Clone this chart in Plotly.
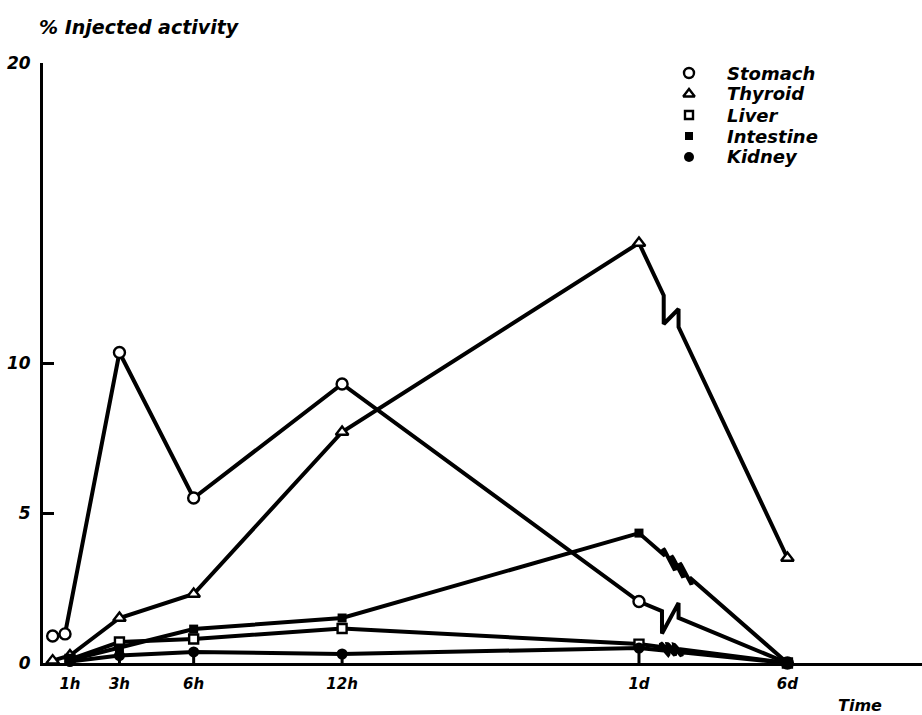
import numpy as np
import plotly.graph_objects as go

# ---------------- data ----------------
tick_hours = [1, 3, 6, 12, 24, 30]
tick_labels = ["1h", "3h", "6h", "12h", "1d", "6d"]
y_ticks = [0, 5, 10, 20]

stomach_x = [0.3, 0.8, 3, 6, 12, 24, 30]
stomach_y = [0.9, 0.97, 10.35, 5.5, 9.3, 2.05, 0.0]

thyroid_x = [0.3, 1, 3, 6, 12, 24, 30]
thyroid_y = [0.08, 0.25, 1.5, 2.3, 7.7, 14.0, 3.5]

liver_x = [1, 3, 6, 12, 24, 30]
liver_y = [0.12, 0.7, 0.8, 1.15, 0.63, 0.0]

intestine_x = [1, 3, 6, 12, 24, 30]
intestine_y = [0.1, 0.5, 1.13, 1.5, 4.33, 0.0]

kidney_x = [1, 3, 6, 12, 24, 30]
kidney_y = [0.05, 0.25, 0.37, 0.3, 0.5, 0.0]

legend_names = ["Stomach", "Thyroid", "Liver", "Intestine", "Kidney"]

FONT = "DejaVu Sans"
LW = 4

# plot area in figure pixels
PX0, PX1, PY0, PY1 = 43, 922, 63, 663


def paper(px, py):
    return (px - PX0) / (PX1 - PX0), (PY1 - py) / (PY1 - PY0)


def seg_y(x0, y0, x1, y1, x):
    return y0 + (y1 - y0) * (x - x0) / (x1 - x0)


def zig_path(xs, ys, xa, xb, d1, d2):
    """line through data with an axis-break 'N' on the last segment"""
    x0, y0, x1, y1 = xs[-2], ys[-2], xs[-1], ys[-1]
    ya, yb = seg_y(x0, y0, x1, y1, xa), seg_y(x0, y0, x1, y1, xb)
    px = list(xs[:-1]) + [xa, xa, xb, xb, x1]
    py = list(ys[:-1]) + [ya, ya - d1, yb + d2, yb, y1]
    return px, py


def coil_path(xs, ys, xa, xb, n, ax, ay):
    x0, y0, x1, y1 = xs[-2], ys[-2], xs[-1], ys[-1]
    s = np.linspace(0, 1, 60)
    xc = xa + (xb - xa) * s
    yc = seg_y(x0, y0, x1, y1, xc)
    t = 2 * np.pi * n * s
    cx = xc - ax * np.sin(t)
    cy = yc + ay * np.sin(t)
    px = list(xs[:-1]) + list(cx) + [x1]
    py = list(ys[:-1]) + list(cy) + [y1]
    return px, py


fig = go.Figure()
line_style = dict(color="black", width=LW)

for px, py in [
    zig_path(stomach_x, stomach_y, 24.93, 25.6, 0.75, 0.5),
    zig_path(thyroid_x, thyroid_y, 25.0, 25.6, 0.95, 0.6),
    coil_path(intestine_x, intestine_y, 25.05, 26.05, 3, 0.15, 0.3),
    coil_path(liver_x, liver_y, 24.9, 25.7, 3, 0.08, 0.13),
    coil_path(kidney_x, kidney_y, 24.9, 25.7, 3, 0.08, 0.13),
]:
    fig.add_trace(go.Scatter(x=px, y=py, mode="lines", line=line_style,
                             showlegend=False, hoverinfo="skip"))

# kidney drop lines
fig.add_trace(go.Scatter(
    x=kidney_x[1:5], y=kidney_y[1:5], mode="markers",
    marker=dict(size=1, color="black"),
    error_y=dict(type="data", symmetric=False, array=[0] * 4,
                 arrayminus=kidney_y[1:5], color="black", thickness=3, width=0),
    showlegend=False, hoverinfo="skip"))

open_m = dict(color="white", line=dict(color="black", width=2.4))
series_markers = [
    (stomach_x, stomach_y, dict(symbol="circle", size=11, **open_m)),
    (thyroid_x, thyroid_y, dict(symbol="triangle-up", size=11, **open_m)),
    (liver_x, liver_y, dict(symbol="square", size=9, **open_m)),
    (intestine_x, intestine_y, dict(symbol="square", size=9, color="black")),
    (kidney_x, kidney_y, dict(symbol="circle", size=11, color="black")),
]
for xs, ys, m in series_markers:
    fig.add_trace(go.Scatter(x=xs, y=ys, mode="markers", marker=m,
                             showlegend=False, hoverinfo="skip", cliponaxis=False))

text_font = dict(family=FONT, color="black", style="italic", weight="bold")

# legend (markers on pixel-overlay axis + text annotations)
legend_rows = [73, 94, 115, 136, 157]
for (xs, ys, m), name, yy in zip(series_markers, legend_names, legend_rows):
    mm = dict(m)
    mm["size"] = m["size"] - 1
    fig.add_trace(go.Scatter(x=[689], y=[yy], xaxis="x2", yaxis="y2", mode="markers",
                             marker=mm, showlegend=False, hoverinfo="skip",
                             cliponaxis=False))
    ax_, ay_ = paper(725, yy)
    fig.add_annotation(x=ax_, y=ay_, xref="paper", yref="paper", text=name,
                       showarrow=False, xanchor="left", yanchor="middle",
                       font=dict(size=18, **text_font))

fig.update_layout(
    width=922, height=715,
    margin=dict(l=PX0, r=922 - PX1, t=PY0, b=715 - PY1),
    paper_bgcolor="white", plot_bgcolor="white",
    xaxis=dict(range=[-0.09, 35.44], tickvals=tick_hours, ticktext=tick_labels,
               showgrid=False, zeroline=False, showline=True, linecolor="black",
               linewidth=3, ticks="", tickfont=dict(size=15, **text_font),
               ticklabelstandoff=5),
    yaxis=dict(range=[0, 20], tickvals=y_ticks, showgrid=False, zeroline=False,
               showline=True, linecolor="black", linewidth=3, ticks="inside",
               ticklen=11, tickwidth=2.5, tickcolor="black",
               tickfont=dict(size=17, **text_font), ticklabelstandoff=6),
    xaxis2=dict(range=[PX0, PX1], overlaying="x", visible=False, fixedrange=True),
    yaxis2=dict(range=[PY1, PY0], overlaying="y", visible=False, fixedrange=True),
    showlegend=False,
)

tx, ty = paper(37, 27)
fig.add_annotation(x=tx, y=ty, xref="paper", yref="paper", text="% Injected activity",
                   showarrow=False, xanchor="left", yanchor="middle",
                   font=dict(size=19, **text_font))
tx, ty = paper(836, 705)
fig.add_annotation(x=tx, y=ty, xref="paper", yref="paper", text="Time",
                   showarrow=False, xanchor="left", yanchor="middle",
                   font=dict(size=16, **text_font))

fig.write_html(
    "out.html",
    config={"displayModeBar": False},
    post_script="document.body.style.margin='0';document.body.style.overflow='hidden';",
)
